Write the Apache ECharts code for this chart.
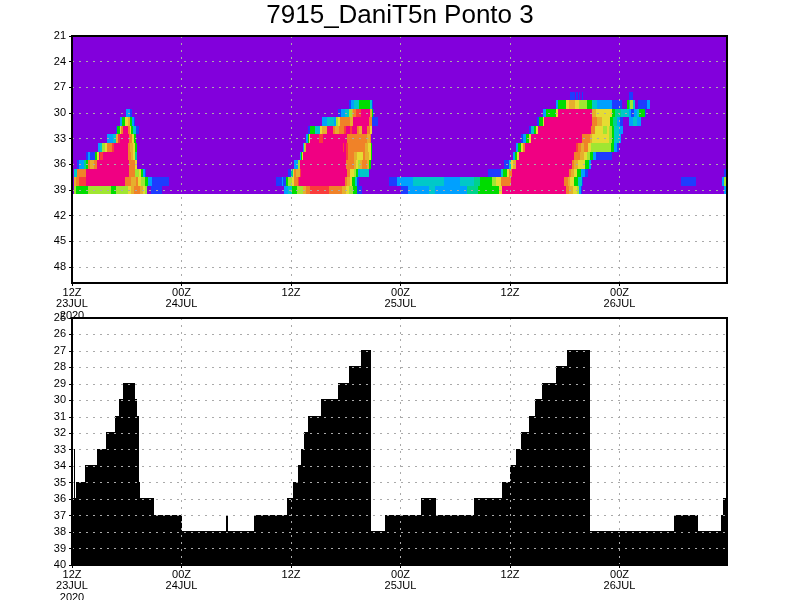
<!DOCTYPE html>
<html><head><meta charset="utf-8">
<style>html,body{margin:0;padding:0;background:#fff}#c{width:800px;height:600px}</style>
<script src="https://cdn.jsdelivr.net/npm/echarts@6/dist/echarts.min.js"></script>
</head><body><div id="c"></div>
<script>
// time axis: hours since 12Z 23JUL 2020
const timeEnd = 71.78;
const timeTicks = ['12Z\n23JUL\n2020','00Z\n24JUL','12Z','00Z\n25JUL','12Z','00Z\n26JUL'];
const topLevels = [21,22,23,24,25,26,27,28,29,30,31,32,33,34,35,36,37,38,39];
// colour classes, 0 = background class
const palette = ['#8200dc','#1e3cff','#00a0ff','#00c8c8','#00d28c','#00dc00','#a0e632','#e6dc32','#e6af2d','#f08228','#fa3c3c','#f00082'];
// each row: start hour, class, start hour, class ... (class 0 = background)
const row28 = [54.57,1,55.12,0,55.23,1,55.45,0,55.56,1,55.67,0,55.89,1,56.0,0,61.04,1,61.48,0];
const row29 = [30.39,1,30.61,2,30.91,3,31.49,5,32.66,3,32.84,1,32.95,0,
  53.04,2,53.26,5,54.13,7,54.46,8,55.12,7,55.56,6,56.43,5,56.98,3,57.53,2,59.17,1,60.27,0,60.82,5,61.04,4,61.15,6,61.48,3,61.7,0,62.02,1,63.01,2,63.34,0];
const row30 = [5.88,2,6.36,1,6.58,0,
  29.19,1,29.44,2,29.92,3,30.39,6,30.69,8,30.83,9,31.12,10,31.64,11,32.66,8,32.84,5,32.99,1,33.1,0,
  51.62,2,51.95,5,53.04,7,53.26,11,56.98,8,57.42,7,59.17,5,59.5,4,60.16,3,61.04,2,61.26,1,61.59,2,61.91,3,62.13,5,62.79,1,62.9,0];
const row31 = [5.3,2,5.52,5,5.81,7,6.17,8,6.36,5,6.58,2,6.79,1,6.94,0,
  27.36,2,27.91,3,28.71,2,28.9,6,29.15,7,29.37,9,30.47,8,30.83,11,32.55,9,32.88,1,33.5,0,
  50.96,1,51.18,5,51.62,7,51.73,11,56.98,9,57.53,8,58.08,7,58.96,5,59.28,4,59.72,2,60.05,1,60.38,0,61.04,2,61.48,3,61.91,2,62.35,0];
const row32 = [4.82,1,4.97,5,5.26,7,5.41,9,5.59,11,6.14,9,6.36,7,6.5,5,6.72,3,7.01,1,7.31,0,
  25.86,1,26.08,5,26.63,3,27.18,7,27.4,8,27.91,11,28.6,9,28.82,8,29.26,9,29.81,10,30.03,11,30.47,10,30.69,11,31.23,9,31.42,8,31.78,11,32.33,9,32.66,7,32.88,0,
  50.08,1,50.3,3,50.63,5,50.85,7,51.07,11,56.87,9,57.31,7,58.19,6,58.63,7,58.85,6,59.17,5,59.39,3,59.94,2,60.38,0];
const row33 = [3.84,2,4.53,3,4.82,8,5.04,10,5.26,11,6.25,9,6.54,7,6.79,5,7.01,0,
  25.65,2,25.86,5,26.01,7,26.12,11,27.07,10,27.51,11,30.17,9,32.33,8,32.66,9,32.77,0,
  49.21,1,49.43,2,49.75,5,50.08,7,50.3,11,55.89,9,56.76,8,56.98,7,58.85,6,59.17,5,59.39,3,59.94,2,60.16,0];
const row34 = [2.85,2,3.07,3,3.29,6,3.62,7,3.84,9,4.38,10,4.6,11,6.17,9,6.39,8,6.72,7,6.94,5,7.12,0,
  25.28,2,25.43,6,25.54,8,25.65,11,29.7,10,29.81,11,30.03,10,30.25,9,32.11,8,32.44,7,32.77,5,32.88,0,
  48.66,2,48.88,5,49.21,7,49.43,9,49.64,11,55.23,10,55.45,9,55.78,8,56.11,9,56.54,7,56.87,6,59.07,5,59.39,2,59.72,1,59.94,0];
const row35 = [1.53,1,1.75,2,1.97,1,2.52,5,2.74,7,2.96,11,3.07,10,3.4,11,6.17,9,6.43,8,6.72,7,6.9,4,7.12,0,
  24.99,2,25.1,5,25.21,7,25.32,11,30.03,10,30.25,9,30.91,8,31.23,7,31.89,9,32.11,8,32.55,7,32.77,5,32.88,0,
  48.33,2,48.55,5,48.77,7,48.99,11,55.01,9,55.67,8,56.11,7,56.43,6,56.76,5,57.09,2,57.42,1,59.17,0];
const row36 = [.55,1,.77,2,1.32,4,1.53,5,1.75,9,1.97,8,2.41,9,2.74,11,6.25,9,6.9,7,7.12,0,
  24.33,2,24.77,6,24.99,11,30.03,9,30.91,8,31.12,7,31.34,6,31.56,8,31.78,9,32.33,8,32.55,5,32.77,0,
  47.34,1,47.89,3,48.11,7,48.33,8,48.66,11,54.79,9,55.01,8,55.45,7,56.22,5,56.65,2,56.87,0];
const row37 = [.22,3,.55,9,1.53,11,6.28,9,6.9,6,7.34,7,7.56,5,7.78,2,8.0,1,8.11,0,
  23.67,1,24.0,4,24.22,7,24.33,9,24.55,8,24.99,10,25.1,11,30.14,9,30.47,7,30.91,6,31.12,5,31.34,2,31.56,3,32.55,0,
  45.59,1,47.01,3,47.23,5,47.67,7,47.89,9,48.22,11,54.46,9,54.68,8,55.01,7,55.34,5,55.78,2,56.22,1,56.54,0,71.45,1,71.78,0];
const row38 = [.22,8,.44,9,.77,10,1.53,11,5.84,9,6.47,8,7.01,9,7.2,7,7.56,6,8.0,5,8.37,2,8.77,1,10.63,0,
  22.36,1,23.02,2,23.12,1,23.45,5,23.67,6,24.11,7,24.33,9,24.77,10,24.88,11,29.92,9,30.14,8,30.47,7,30.69,5,31.02,3,31.23,1,31.45,0,
  34.74,1,35.62,2,37.37,3,40.77,2,42.52,3,44.06,4,44.71,5,46.03,6,46.47,7,47.01,9,48.11,11,53.91,9,54.35,8,54.57,7,55.01,5,55.45,3,55.89,1,56.0,0,66.74,1,68.38,0,71.23,2,71.45,6,71.78,0];
const row39 = [.22,6,.44,5,1.75,6,4.27,5,4.82,6,6.14,7,6.47,8,6.79,9,7.45,8,7.78,7,8.0,6,8.22,0,8.66,1,9.86,0,
  23.23,2,23.67,3,24.11,5,24.66,6,25.32,8,25.65,9,26.08,10,28.17,9,29.59,8,30.03,7,30.36,6,30.8,5,31.23,1,31.78,0,
  36.05,1,36.82,2,39.12,3,39.78,2,43.29,4,44.49,5,46.8,7,47.12,11,54.13,9,54.46,8,54.9,7,55.34,6,55.56,2,55.78,1,55.89,0,71.45,2,71.78,0];
const rowLevels = [28,29,30,31,32,33,34,35,36,37,38,39];
const rows = [row28,row29,row30,row31,row32,row33,row34,row35,row36,row37,row38,row39];
// lower panel: step profile
const stepStart = [0,.22,.33,.44,1.42,2.74,3.7,4.7,5.15,5.6,6.9,7.1,7.35,7.45,9,12.1,16.9,17.1,19.95,23.56,24.22,24.77,25.1,25.42,25.86,27.29,29.15,30.36,31.67,32.77,34.3,38.25,39.9,44.05,47.12,48,48.66,49.2,50.08,50.74,51.5,53.04,54.25,56.77,65.97,68.6,71.12,71.34];
const stepLevel = [36,33,36,35,34,33,32,31,30,29,30,31,35,36,37,38,37,38,37,36,35,34,33,32,31,30,29,28,27,38,37,36,37,36,35,34,33,32,31,30,29,28,27,38,37,38,37,36];

const cells = topLevels.map(l => [0, timeEnd, l, 0]);
rows.forEach((r, i) => {
  for (let k = 0; k + 2 < r.length; k += 2) {
    if (r[k + 1] !== 0) cells.push([r[k], r[k + 2], rowLevels[i], r[k + 1]]);
  }
});
const steps = stepStart.map((s, i) => [s, i + 1 < stepStart.length ? stepStart[i + 1] : timeEnd, stepLevel[i]]);

const font = {fontFamily: 'Liberation Sans', fontSize: 11, color: '#000'};
const dash = {show: true, lineStyle: {color: '#aaa', width: 1, type: [2, 5]}, showMinLine: false, showMaxLine: false};
function xAxis(gridIndex) {
  return {type: 'value', gridIndex, min: 0, max: timeEnd, interval: 12, z: 5,
    axisLine: {show: false}, axisTick: {show: true, length: 3, lineStyle: {color: '#000'}},
    splitLine: dash,
    axisLabel: {...font, lineHeight: 11.5, margin: 4, showMaxLabel: false, hideOverlap: false,
      formatter: v => timeTicks[Math.round(v / 12)] || ''}};
}
function yAxis(gridIndex, min, max, interval) {
  return {type: 'value', gridIndex, inverse: true, min, max, interval, z: 5,
    axisLine: {show: false}, axisTick: {show: true, length: 3, lineStyle: {color: '#000'}},
    splitLine: dash,
    axisLabel: {...font, margin: 6, showMaxLabel: max % interval === 0, hideOverlap: false}};
}
const option = {
  animation: false,
  backgroundColor: '#fff',
  title: {text: '7915_DaniT5n Ponto 3', left: 'center', top: -2,
    textStyle: {fontFamily: 'Liberation Sans', fontSize: 26, fontWeight: 'normal', color: '#000'}},
  grid: [
    {left: 72, right: 73, top: 36, height: 247, show: true, z: 6, borderColor: '#000', borderWidth: 2, backgroundColor: 'transparent', outerBoundsMode: 'none'},
    {left: 72, right: 73, top: 318, height: 247, show: true, z: 6, borderColor: '#000', borderWidth: 2, backgroundColor: 'transparent', outerBoundsMode: 'none'}
  ],
  xAxis: [xAxis(0), xAxis(1)],
  yAxis: [yAxis(0, 21, 49.87, 3), yAxis(1, 25, 40, 1)],
  series: [
    {type: 'custom', xAxisIndex: 0, yAxisIndex: 0, clip: true, silent: true, data: cells,
      encode: {x: [0, 1], y: 2},
      renderItem(params, api) {
        const a = api.coord([api.value(0), Math.max(api.value(2) - .5, 21)]);
        const b = api.coord([api.value(1), api.value(2) + .5]);
        const x0 = Math.round(a[0]), x1 = Math.round(b[0]);
        const y0 = Math.round(a[1]), y1 = Math.round(b[1]);
        return {type: 'rect', shape: {x: x0, y: y0, width: Math.max(x1 - x0, 1), height: y1 - y0},
          style: {fill: palette[api.value(3)]}};
      }},
    {type: 'custom', xAxisIndex: 1, yAxisIndex: 1, clip: true, silent: true, data: steps,
      encode: {x: [0, 1], y: 2},
      renderItem(params, api) {
        const a = api.coord([api.value(0), api.value(2)]);
        const b = api.coord([api.value(1), 40]);
        const x0 = Math.round(a[0]), x1 = Math.round(b[0]);
        const y0 = Math.round(a[1]) - 1, y1 = Math.round(b[1]);
        return {type: 'rect', shape: {x: x0, y: y0, width: Math.max(x1 - x0, 1), height: y1 - y0},
          style: {fill: '#000'}};
      }}
  ]
};
echarts.init(document.getElementById('c'), null, {renderer: 'canvas'}).setOption(option);
</script></body></html>
